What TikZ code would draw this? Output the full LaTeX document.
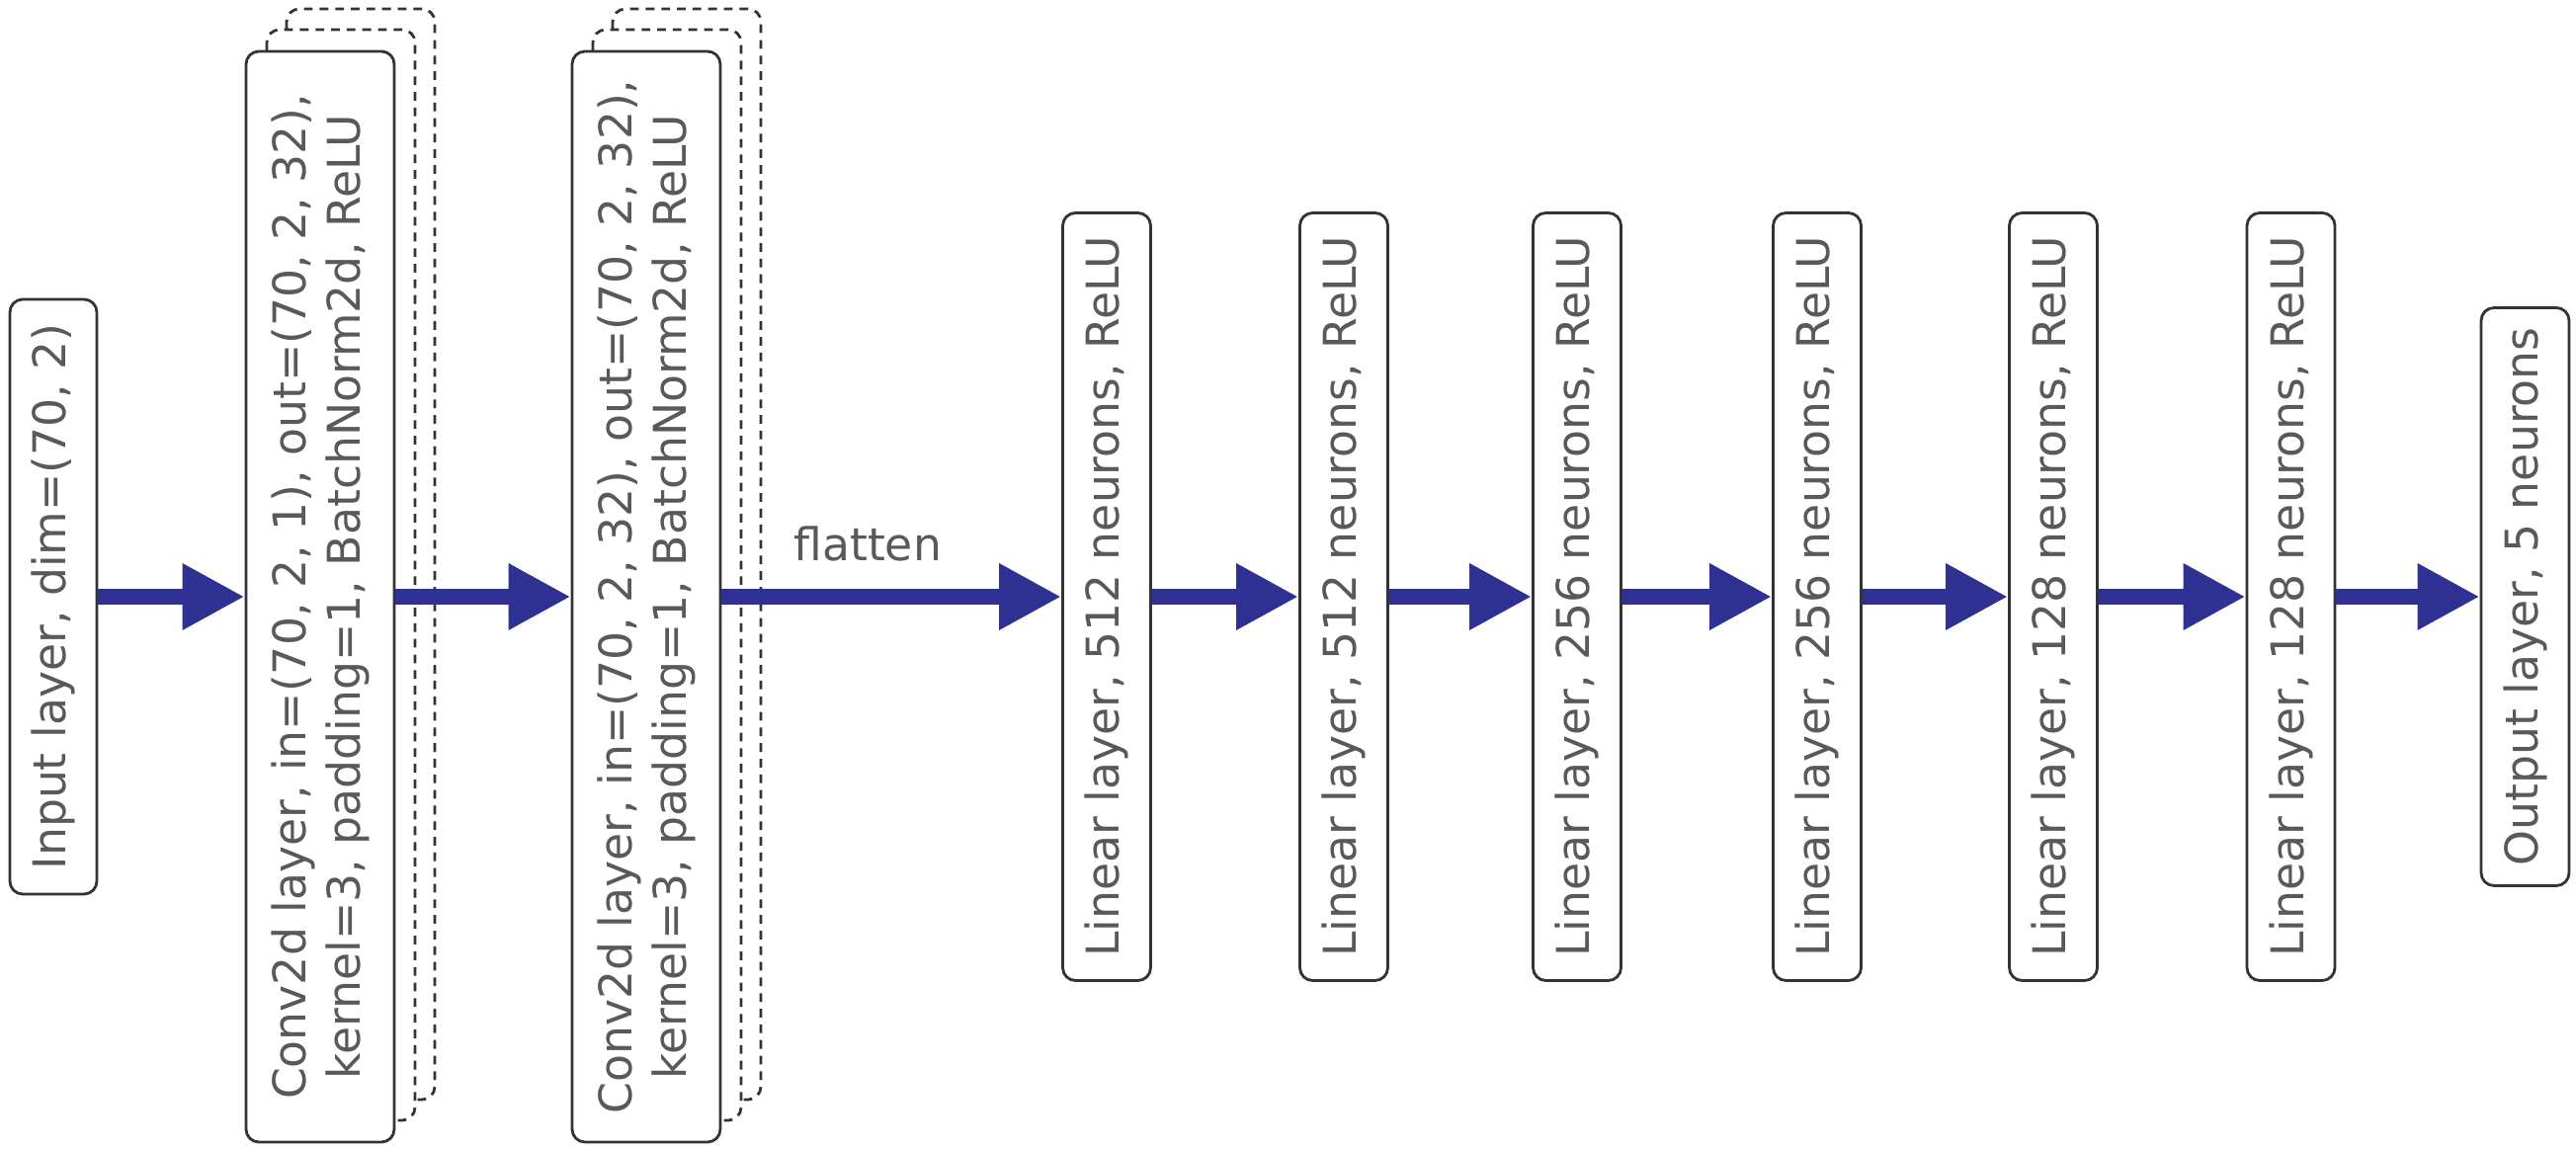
\documentclass[tikz,border=0pt]{standalone}
\usepackage{fontspec}
\setmainfont{DejaVu Sans}
\usetikzlibrary{arrows.meta}
\definecolor{flowblue}{HTML}{2E3192}
\definecolor{txtgray}{HTML}{595959}
\definecolor{edgegray}{HTML}{333333}

\begin{document}
\begin{tikzpicture}[font=\fontsize{13}{15.6}\selectfont,
  ly/.style={draw=edgegray,line width=0.8pt,rounded corners=1.3mm,fill=white,rotate=90,text=txtgray,inner sep=0pt,align=center},
  lin/.style={ly,minimum width=7.77cm,minimum height=0.89cm},
  cv/.style={ly,minimum width=11.04cm,minimum height=1.50cm},
  sh/.style={cv,dash pattern=on 2.5pt off 2pt},
  fl/.style={-{Triangle[length=6.3mm,width=6.3mm]},line width=4.5pt,flowblue}]
\useasboundingbox (0,0) rectangle (26.07,11.64);
\node[ly,minimum width=6.02cm,minimum height=0.88cm] (in) at (0.54,5.60) {Input layer, dim=(70, 2)};
% conv blocks with stacked copies behind
\node[sh] (c1s2) at (3.65,6.03) {};
\node[sh] (c1s1) at (3.45,5.82) {};
\node[cv] (c1) at (3.24,5.60) {Conv2d layer, in=(70, 2, 1), out=(70, 2, 32),\\ kernel=3, padding=1, BatchNorm2d, ReLU};
\node[sh] (c2s2) at (6.95,6.03) {};
\node[sh] (c2s1) at (6.75,5.82) {};
\node[cv] (c2) at (6.54,5.60) {Conv2d layer, in=(70, 2, 32), out=(70, 2, 32),\\ kernel=3, padding=1, BatchNorm2d, ReLU};
% linear layers
\node[lin] (l1) at (11.20,5.60) {Linear layer, 512 neurons, ReLU};
\node[lin] (l2) at (13.60,5.60) {Linear layer, 512 neurons, ReLU};
\node[lin] (l3) at (15.96,5.60) {Linear layer, 256 neurons, ReLU};
\node[lin] (l4) at (18.39,5.60) {Linear layer, 256 neurons, ReLU};
\node[lin] (l5) at (20.78,5.60) {Linear layer, 128 neurons, ReLU};
\node[lin] (l6) at (23.185,5.60) {Linear layer, 128 neurons, ReLU};
\node[ly,minimum width=5.85cm,minimum height=0.89cm] (out) at (25.555,5.60) {Output layer, 5 neurons};
% flow
\draw[fl] (in) -- (c1);
\draw[fl] (c1) -- (c2);
\draw[fl] (c2) -- node[pos=0.43,anchor=south,yshift=0.16cm,text=txtgray] (flat) {flatten} (l1);
\draw[fl] (l1) -- (l2);
\draw[fl] (l2) -- (l3);
\draw[fl] (l3) -- (l4);
\draw[fl] (l4) -- (l5);
\draw[fl] (l5) -- (l6);
\draw[fl] (l6) -- (out);
\end{tikzpicture}
\end{document}
